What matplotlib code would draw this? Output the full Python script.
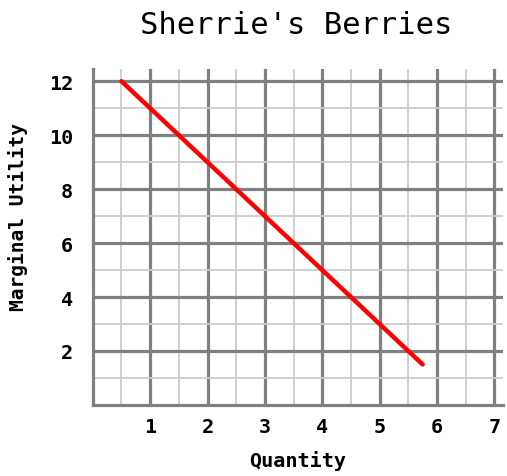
import matplotlib
matplotlib.use("Agg")
import matplotlib.pyplot as plt
from matplotlib.ticker import FixedLocator

# Data
quantity = [0.5, 5.75]
marginal_utility = [12, 1.5]
x_ticks = [1, 2, 3, 4, 5, 6, 7]
y_ticks = [2, 4, 6, 8, 10, 12]
title = "Sherrie's Berries"
xlabel = "Quantity"
ylabel = "Marginal Utility"

fig = plt.figure(figsize=(5.07, 4.77), dpi=100)
ax = fig.add_axes([0.183, 0.149, 0.809, 0.704])

ax.set_xlim(0, 7.15)
ax.set_ylim(0, 12.45)

ax.xaxis.set_major_locator(FixedLocator(x_ticks))
ax.yaxis.set_major_locator(FixedLocator(y_ticks))
ax.xaxis.set_minor_locator(FixedLocator([i + 0.5 for i in range(0, 7)]))
ax.yaxis.set_minor_locator(FixedLocator([1, 3, 5, 7, 9, 11]))

ax.grid(which='minor', color='#cccccc', linewidth=1.3, zorder=0)
ax.grid(which='major', color='#808080', linewidth=2.3, zorder=1)
ax.set_axisbelow(True)

for s in ['top', 'right']:
    ax.spines[s].set_visible(False)
for s in ['left', 'bottom']:
    ax.spines[s].set_color('#808080')
    ax.spines[s].set_linewidth(2.3)

ax.tick_params(which='both', length=0)
ax.tick_params(axis='x', pad=9)
ax.tick_params(axis='y', pad=14)

mono = 'DejaVu Sans Mono'
ax.set_xticklabels([str(v) for v in x_ticks], fontfamily=mono, fontsize=14.5, fontweight='bold')
ax.set_yticklabels([str(v) for v in y_ticks], fontfamily=mono, fontsize=14.5, fontweight='bold')

ax.plot(quantity, marginal_utility, color='#ff0000', linewidth=3.2, zorder=3, solid_capstyle='round')

fig.text(0.585, 0.946, title, ha='center', va='center', fontfamily=mono, fontsize=22)
fig.text(0.587, 0.033, xlabel, ha='center', va='center', fontfamily=mono, fontsize=14.5, fontweight='bold')
fig.text(0.036, 0.545, ylabel, ha='center', va='center', rotation=90, fontfamily=mono, fontsize=14, fontweight='bold')

fig.savefig('out.png', dpi=100)
